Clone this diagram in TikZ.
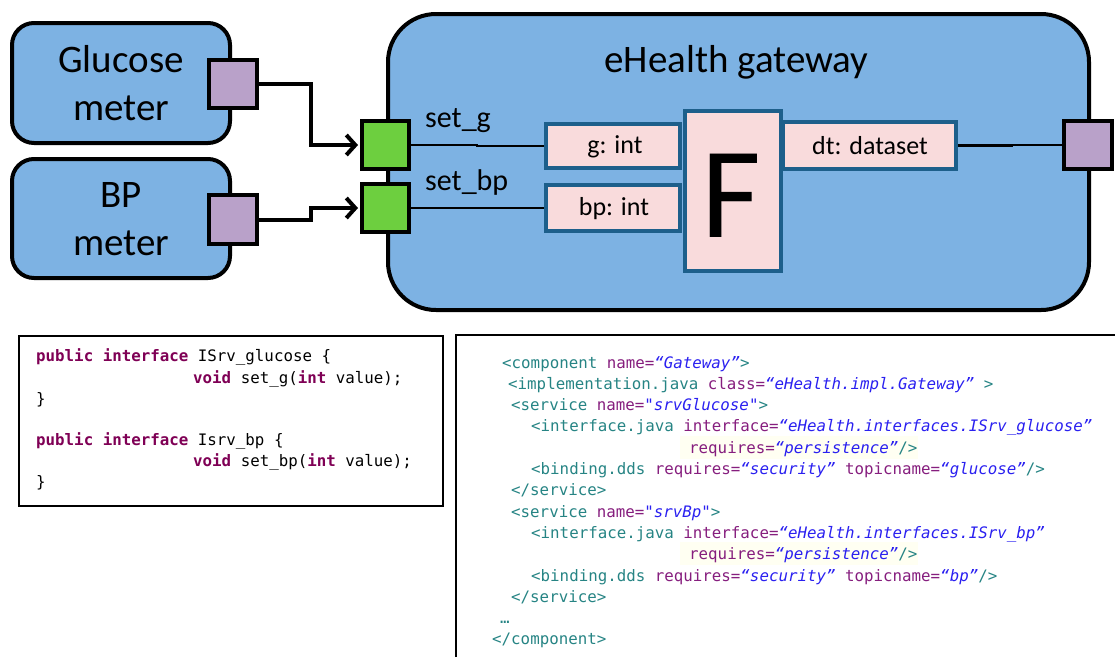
\documentclass[tikz,border=0pt]{standalone}
\usepackage{fontspec}
\setmainfont{Carlito}
\newfontfamily\codefont{DejaVu Sans Mono}[WordSpace={1,0,0}]
\usetikzlibrary{arrows.meta}
\definecolor{boxblue}{RGB}{125,178,227}
\definecolor{portpurple}{RGB}{185,161,201}
\definecolor{portgreen}{RGB}{109,207,63}
\definecolor{pinkfill}{RGB}{249,219,220}
\definecolor{inblue}{RGB}{29,95,139}
\definecolor{kwcol}{RGB}{127,0,85}
\definecolor{tagcol}{RGB}{38,132,132}
\definecolor{attcol}{RGB}{134,30,126}
\definecolor{valcol}{RGB}{42,32,240}
\definecolor{hilite}{RGB}{255,255,242}
\newcommand\jkw[1]{\textcolor{kwcol}{\bfseries #1}}
\newcommand\xtg[1]{\textcolor{tagcol}{#1}}
\newcommand\xat[1]{\textcolor{attcol}{#1}}
\newcommand\xvl[1]{\textcolor{valcol}{\itshape #1}}
\begin{document}
\begin{tikzpicture}[x=1pt,y=-1pt,
  meter/.style={draw=black, line width=4pt, fill=boxblue, rounded corners=22pt, inner sep=0pt},
  portbox/.style={draw=black, line width=4pt, inner sep=0pt, minimum width=48pt, minimum height=48pt},
  inbox/.style={draw=inblue, line width=4pt, fill=pinkfill, inner sep=0pt},
  lbl/.style={inner sep=0pt, anchor=base, font=\fontsize{39}{46}\selectfont},
  midlbl/.style={inner sep=0pt, anchor=base west, font=\fontsize{30}{36}\selectfont},
  inlbl/.style={inner sep=0pt, anchor=base, font=\fontsize{26}{31}\selectfont},
  codeln/.style={inner sep=0pt, anchor=base west, font=\codefont\fontsize{15.8}{19}\selectfont},
  arr/.style={line width=4pt, -{Straight Barb[length=9pt,width=20pt,line width=4pt]}, shorten >=2pt},
  wire/.style={line width=2.5pt}
]
\useasboundingbox (0,0) rectangle (1115,657);

% meters
\node[meter, minimum width=218pt, minimum height=120pt] (gmeter) at (121,83) {};
\node[meter, minimum width=218pt, minimum height=119pt] (bmeter) at (121,218.5) {};
\node[lbl] (gmt1) at (121,72) {Glucose};
\node[lbl] (gmt2) at (121,120) {meter};
\node[lbl] (bmt1) at (121,207) {BP};
\node[lbl] (bmt2) at (121,255) {meter};
\node[portbox, fill=portpurple] (gport) at (233,84) {};
\node[portbox, fill=portpurple, minimum height=49pt] (bport) at (233,219.5) {};

% gateway
\node[draw=black, line width=4pt, fill=boxblue, rounded corners=48pt, inner sep=0pt,
      minimum width=701pt, minimum height=296pt] (gw) at (738.5,162) {};
\node[lbl] (gwt) at (736.5,72) {eHealth gateway};

\node[portbox, fill=portgreen, minimum width=47pt] (gp1) at (385.5,145) {};
\node[portbox, fill=portgreen, minimum width=47pt] (gp2) at (385.5,208) {};
\node[portbox, fill=portpurple] (rport) at (1088,145) {};

\node[midlbl] (setg) at (425,127) {set\_g};
\node[midlbl] (setbp) at (425,190) {set\_bp};

\node[inbox, minimum width=134pt, minimum height=44pt] (gbox) at (613,146) {};
\node[inbox, minimum width=134pt, minimum height=46pt] (bpbox) at (613,208) {};
\node[inbox, minimum width=173pt, minimum height=47pt] (dtbox) at (869.5,145.5) {};
\node[inbox, minimum width=96pt, minimum height=160pt] (fbox) at (733,191) {};
\node[inlbl] (gtxt) at (615,153) {g: int};
\node[inlbl] (bptxt) at (614,215) {bp: int};
\node[inlbl] (dttxt) at (870,154) {dt: dataset};
\node[inner sep=0pt, anchor=base, font=\fontsize{130}{130}\selectfont] (ftxt) at (731.5,237) {F};

% wires
\draw[wire] (gp1.east) -- ++(66,0) |- (gbox.west);
\draw[wire] (gp2.east) -- (bpbox.west);
\draw[wire] (dtbox.east) -- ++(54,0) |- (rport.west);

% arrows
\draw[arr] (gport.east) -- ++(52,0) |- (gp1.west);
\draw[arr] (bport.east) -- ++(52,0) |- (gp2.west);

% java box
\draw[line width=2pt] (19,336) rectangle (443,506);
\node[codeln] (j1) at (36,361.7) {\jkw{public interface} ISrv\_glucose \{};
\node[codeln] (j2) at (193,383) {\jkw{void} set\_g(\jkw{int} value);};
\node[codeln] (j3) at (36,404) {\}};
\node[codeln] (j4) at (36,445) {\jkw{public interface} Isrv\_bp \{};
\node[codeln] (j5) at (193,466.5) {\jkw{void} set\_bp(\jkw{int} value);};
\node[codeln] (j6) at (36,487.5) {\}};

% xml box
\draw[line width=2pt] (456,657) -- (456,335) -- (1115,335);
\fill[hilite] (680,436) rectangle (918,459);
\fill[hilite] (680,542) rectangle (918,565);
\node[codeln] (x1) at (502,368) {\xtg{<component} \xat{name=}\xvl{“Gateway”}\xtg{>}};
\node[codeln] (x2) at (508,389.3) {\xtg{<implementation.java} \xat{class=}\xvl{“eHealth.impl.Gateway”} \xtg{>}};
\node[codeln] (x3) at (511,410.6) {\xtg{<service} \xat{name=}\xvl{"srvGlucose"}\xtg{>}};
\node[codeln] (x4) at (531,431.9) {\xtg{<interface.java} \xat{interface=}\xvl{“eHealth.interfaces.ISrv\_glucose”}};
\node[codeln] (x5) at (689,453.2) {\xat{requires=}\xvl{“persistence”}\xtg{/>}};
\node[codeln] (x6) at (531,474.5) {\xtg{<binding.dds} \xat{requires=}\xvl{“security”} \xat{topicname=}\xvl{“glucose”}\xtg{/>}};
\node[codeln] (x7) at (511,495.8) {\xtg{</service>}};
\node[codeln] (x8) at (511,517.1) {\xtg{<service} \xat{name=}\xvl{"srvBp"}\xtg{>}};
\node[codeln] (x9) at (531,538.4) {\xtg{<interface.java} \xat{interface=}\xvl{“eHealth.interfaces.ISrv\_bp”}};
\node[codeln] (x10) at (689,559.7) {\xat{requires=}\xvl{“persistence”}\xtg{/>}};
\node[codeln] (x11) at (531,581) {\xtg{<binding.dds} \xat{requires=}\xvl{“security”} \xat{topicname=}\xvl{“bp”}\xtg{/>}};
\node[codeln] (x12) at (511,602.3) {\xtg{</service>}};
\node[codeln] (x13) at (500,623.6) {\xtg{…}};
\node[codeln] (x14) at (492,644.9) {\xtg{</component>}};
\end{tikzpicture}
\end{document}
